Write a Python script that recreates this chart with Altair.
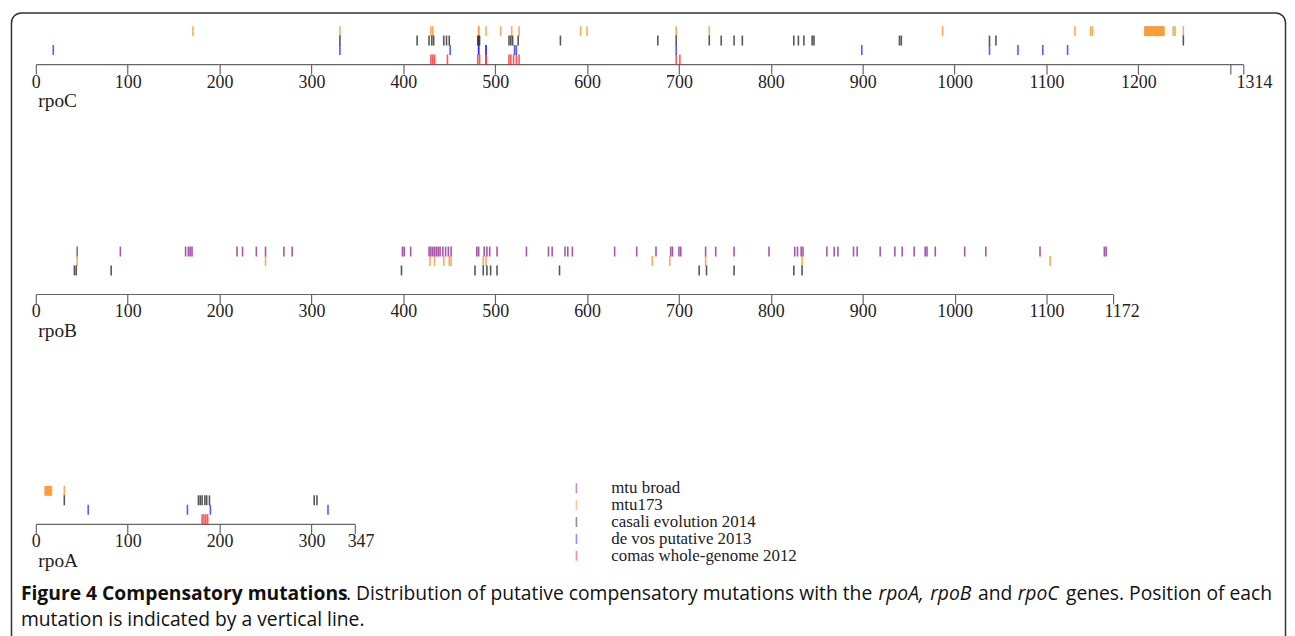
import altair as alt
import pandas as pd

# ---------------- data ----------------
datasets = ["mtu broad", "mtu173", "casali evolution 2014",
            "de vos putative 2013", "comas whole-genome 2012"]
colors = ["#8a1c8c", "#f7901e", "#1e1e1e", "#2020ff", "#ff1e1e"]

rpoC_length = 1314
rpoC_ticks = [0, 100, 200, 300, 400, 500, 600, 700, 800, 900, 1000, 1100, 1200, 1300, 1314]
rpoC_mtu_broad = []
rpoC_mtu173 = [171, 331, 430, 432, 482, 482, 490, 506, 518, 526, 593, 600, 697, 733, 987,
               1131, 1148, 1150,
               1207, 1208, 1209, 1210, 1211, 1212, 1213, 1214, 1215, 1216, 1217, 1218,
               1219, 1220, 1221, 1222, 1223, 1224, 1225, 1226, 1227, 1228,
               1238, 1240, 1249]
rpoC_casali = [331, 415, 428, 431, 433, 444, 447, 450, 481, 482, 483, 515, 517, 519, 525,
               571, 677, 697, 733, 746, 760, 769, 825, 830, 836, 845, 847, 940, 942,
               1038, 1045, 1249]
rpoC_devos = [19, 331, 451, 482, 482, 490, 490, 521, 523, 697, 899, 1038, 1069, 1096, 1123]
rpoC_comas = [430, 432, 434, 448, 481, 483, 490, 490, 515, 517, 520, 523, 526, 697, 701]

rpoB_length = 1172
rpoB_ticks = [0, 100, 200, 300, 400, 500, 600, 700, 800, 900, 1000, 1100, 1172]
rpoB_mtu_broad = [45, 92, 163, 166, 168, 170, 219, 225, 240, 250, 270, 279, 399, 401, 408,
                  428, 430, 432, 434, 436, 438, 440, 443, 446, 449, 452, 480, 482, 488, 491,
                  494, 502, 534, 558, 562, 576, 579, 584, 630, 654, 675, 691, 693, 700, 702,
                  729, 740, 760, 798, 826, 829, 833, 835, 861, 869, 873, 890, 894, 919, 935,
                  943, 956, 968, 970, 979, 1011, 1034, 1093, 1163, 1165]
rpoB_mtu173 = [45, 250, 429, 434, 444, 450, 452, 487, 490, 671, 690, 729, 834, 1104]
rpoB_casali = [42, 44, 82, 398, 478, 487, 491, 495, 502, 570, 722, 730, 760, 825, 834]
rpoB_devos = []
rpoB_comas = []

rpoA_length = 347
rpoA_ticks = [0, 100, 200, 300, 347]
rpoA_mtu_broad = []
rpoA_mtu173 = [10, 11, 12, 13, 14, 15, 16, 17, 31]
rpoA_casali = [31, 177, 179, 181, 184, 186, 189, 303, 306]
rpoA_devos = [57, 165, 190, 318]
rpoA_comas = [181, 183, 185, 187]

caption_bold = "Figure 4 Compensatory mutations"
caption_parts = [". Distribution of putative compensatory mutations with the",
                 "rpoA,", "rpoB", "and", "rpoC", "genes. Position of each"]
caption_line2 = "mutation is indicated by a vertical line."

# ---------------- layout constants ----------------
PX = 0.9245          # pixels per residue
ROW_H = 47.5         # height of the 5 dataset rows
SERIF = "Liberation Serif"
SANS = "Open Sans"
CAP_SIZE = 19.4


def gene_df(lists):
    rows = []
    for ds, vals in zip(datasets, lists):
        for v in vals:
            rows.append({"pos": v, "dataset": ds})
    return pd.DataFrame(rows, columns=["pos", "dataset"])


def gene_chart(name, length, ticks, lists, last_offset):
    df = gene_df(lists)
    last = ticks[-1]
    hide = " || ".join(f"datum.value == {t}" for t in ticks if last - t < 30 and t != last) or "false"
    axis = alt.Axis(
        values=ticks, grid=False, format="d",
        labelExpr=f"({hide}) ? '' : datum.label",
        tickSize=10, tickWidth=1.2, tickColor="#666",
        domainColor="#666", domainWidth=1.2,
        labelFont=SERIF, labelFontSize=18, labelColor="#222",
        labelPadding=-1, labelFlush=False, labelOverlap=False,
        labelOffset={"condition": {"test": f"datum.value == {last}", "value": last_offset}, "value": 0},
        title=name, titleFont=SERIF, titleFontSize=19.5, titleFontWeight="normal",
        titleColor="#222", titleX=2, titleY=43, titleAlign="left",
        titleBaseline="alphabetic",
    )
    return alt.Chart(df).mark_tick(
        orient="vertical", thickness=1.6, size=10, opacity=0.75
    ).encode(
        x=alt.X("pos:Q", scale=alt.Scale(domain=[0, length], nice=False, zero=False), axis=axis),
        y=alt.Y("dataset:N", scale=alt.Scale(domain=datasets, paddingInner=0, paddingOuter=0), axis=None),
        color=alt.Color("dataset:N", scale=alt.Scale(domain=datasets, range=colors), legend=None),
    )


rpoC = gene_chart("rpoC", rpoC_length, rpoC_ticks,
                  [rpoC_mtu_broad, rpoC_mtu173, rpoC_casali, rpoC_devos, rpoC_comas], 11
                  ).properties(width=rpoC_length * PX, height=ROW_H)
rpoB = gene_chart("rpoB", rpoB_length, rpoB_ticks,
                  [rpoB_mtu_broad, rpoB_mtu173, rpoB_casali, rpoB_devos, rpoB_comas], 9
                  ).properties(width=rpoB_length * PX, height=ROW_H)
rpoA_ticks_chart = gene_chart("rpoA", rpoA_length, rpoA_ticks,
                              [rpoA_mtu_broad, rpoA_mtu173, rpoA_casali, rpoA_devos, rpoA_comas], 6)

one = pd.DataFrame({"k": [0]})
# rpoA plot origin is at page (35, 477.4)
ORX, ORY = 35, 477.4

border = alt.Chart(one).mark_rect(
    fillOpacity=0, stroke="#333", strokeWidth=1.5, cornerRadius=10
).encode(x=alt.value(10.5 - ORX), x2=alt.value(1292.5 - ORX),
         y=alt.value(10.7 - ORY), y2=alt.value(175))

# manual legend (symbol column at page x 579)
legend_layers = []
for i, (ds, col) in enumerate(zip(datasets, colors)):
    cy = 489 + 17 * i - ORY
    legend_layers.append(alt.Chart(one).mark_rule(
        color=col, strokeWidth=1.6, opacity=0.5
    ).encode(x=alt.value(579 - ORX), y=alt.value(cy - 5), y2=alt.value(cy + 5)))
    legend_layers.append(alt.Chart(one).mark_text(
        text=ds, align="left", baseline="middle", font=SERIF, fontSize=17, color="#222"
    ).encode(x=alt.value(614 - ORX), y=alt.value(cy)))

cap_y1 = 601.6 - ORY
cap_y2 = 627.6 - ORY
caps = [alt.Chart(one).mark_text(
    text=caption_bold, align="left", baseline="alphabetic", font=SANS,
    fontSize=CAP_SIZE, fontWeight="bold", color="#111"
).encode(x=alt.value(20 - ORX), y=alt.value(cap_y1))]
part_x = [347, 883, 935, 983, 1023, 1279]
part_style = ["normal", "italic", "italic", "normal", "italic", "normal"]
part_align = ["left", "left", "left", "left", "left", "right"]
for txt, px, st, al in zip(caption_parts, part_x, part_style, part_align):
    caps.append(alt.Chart(one).mark_text(
        text=txt, align=al, baseline="alphabetic", font=SANS,
        fontSize=CAP_SIZE, fontStyle=st, color="#111"
    ).encode(x=alt.value(px - ORX), y=alt.value(cap_y1)))
caps.append(alt.Chart(one).mark_text(
    text=caption_line2, align="left", baseline="alphabetic", font=SANS,
    fontSize=CAP_SIZE, color="#111"
).encode(x=alt.value(20 - ORX), y=alt.value(cap_y2)))

rpoA = alt.layer(rpoA_ticks_chart, border, *legend_layers, *caps).properties(
    width=rpoA_length * PX, height=ROW_H)

chart = alt.vconcat(rpoC, rpoB, rpoA, spacing=183.3, bounds="flush").properties(
    padding={"left": 2, "top": 2, "right": 0, "bottom": 0}
).configure_view(strokeWidth=0)

chart.save("out.html", embed_options={"renderer": "svg", "actions": False})
